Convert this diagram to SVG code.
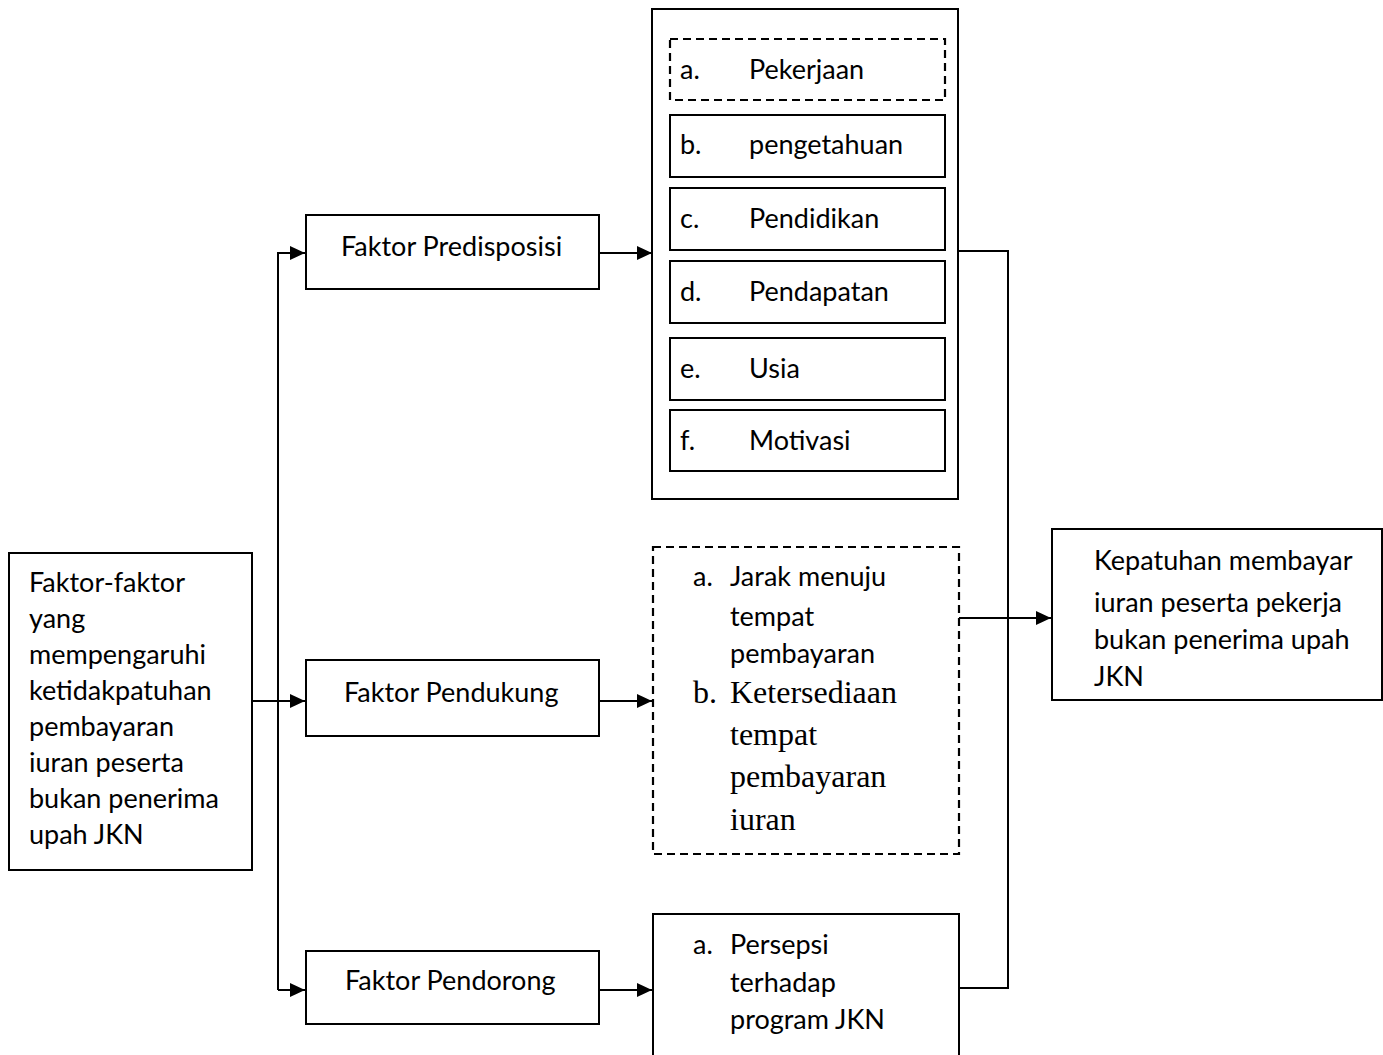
<svg xmlns="http://www.w3.org/2000/svg" width="1383" height="1055" viewBox="0 0 1383 1055">
<style>
.box{fill:#fff;stroke:#000;stroke-width:2}
.dash{fill:#fff;stroke:#000;stroke-width:2.2;stroke-dasharray:8 5}
.t{font-family:Lato,"Liberation Sans",sans-serif;font-size:27px;fill:#000}
.s{font-family:"Liberation Serif",serif;font-size:32px;fill:#000}
.ln{fill:none;stroke:#000;stroke-width:2}
</style>
<defs>
<marker id="ah" markerWidth="16" markerHeight="16" refX="15" refY="7" orient="auto" markerUnits="userSpaceOnUse">
<path d="M0,0 L15,7 L0,14 Z" fill="#000"/>
</marker>
</defs>
<rect width="1383" height="1055" fill="#fff"/>
<g id="connectors">
<path class="ln" d="M253,701 H305" marker-end="url(#ah)"/>
<path class="ln" d="M278,990 V253 H305" marker-end="url(#ah)"/>
<path class="ln" d="M278,990 H305" marker-end="url(#ah)"/>
<path class="ln" d="M599,253 H652" marker-end="url(#ah)"/>
<path class="ln" d="M599,701 H652" marker-end="url(#ah)"/>
<path class="ln" d="M599,990 H652" marker-end="url(#ah)"/>
<path class="ln" d="M958,251 H1008 V988 H959"/>
<path class="ln" d="M959,618 H1051" marker-end="url(#ah)"/>
</g>
<g id="n-left">
<rect class="box" x="9" y="553" width="243" height="317"/>
<text class="t" x="29" y="592">Faktor-faktor</text>
<text class="t" x="29" y="628">yang</text>
<text class="t" x="29" y="664">mempengaruhi</text>
<text class="t" x="29" y="700">ketidakpatuhan</text>
<text class="t" x="29" y="736">pembayaran</text>
<text class="t" x="29" y="772">iuran peserta</text>
<text class="t" x="29" y="808">bukan penerima</text>
<text class="t" x="29" y="844">upah JKN</text>
</g>
<g id="n-predisposisi">
<rect class="box" x="306" y="215" width="293" height="74"/>
<text class="t" x="341" y="256">Faktor Predisposisi</text>
</g>
<g id="n-pendukung">
<rect class="box" x="306" y="660" width="293" height="76"/>
<text class="t" x="344" y="702">Faktor Pendukung</text>
</g>
<g id="n-pendorong">
<rect class="box" x="306" y="951" width="293" height="73"/>
<text class="t" x="345" y="990">Faktor Pendorong</text>
</g>
<g id="n-predisposisi-list">
<rect class="box" x="652" y="9" width="306" height="490"/>
<rect class="dash" x="670" y="39" width="275" height="61"/>
<text class="t" x="680" y="79">a.</text><text class="t" x="749" y="79">Pekerjaan</text>
<rect class="box" x="670" y="115" width="275" height="62"/>
<text class="t" x="680" y="154">b.</text><text class="t" x="749" y="154">pengetahuan</text>
<rect class="box" x="670" y="188" width="275" height="62"/>
<text class="t" x="680" y="228">c.</text><text class="t" x="749" y="228">Pendidikan</text>
<rect class="box" x="670" y="261" width="275" height="62"/>
<text class="t" x="680" y="301">d.</text><text class="t" x="749" y="301">Pendapatan</text>
<rect class="box" x="670" y="338" width="275" height="62"/>
<text class="t" x="680" y="378">e.</text><text class="t" x="749" y="378">Usia</text>
<rect class="box" x="670" y="410" width="275" height="61"/>
<text class="t" x="680" y="450">f.</text><text class="t" x="749" y="450">Motivasi</text>
</g>
<g id="n-pendukung-list">
<rect class="dash" x="653" y="547" width="306" height="307"/>
<text class="t" x="693" y="586">a.</text><text class="t" x="730" y="586">Jarak menuju</text>
<text class="t" x="730" y="626">tempat</text>
<text class="t" x="730" y="663">pembayaran</text>
<text class="s" x="693" y="703">b.</text><text class="s" x="730" y="703">Ketersediaan</text>
<text class="s" x="730" y="745">tempat</text>
<text class="s" x="730" y="787">pembayaran</text>
<text class="s" x="730" y="830">iuran</text>
</g>
<g id="n-pendorong-list">
<rect class="box" x="653" y="914" width="306" height="160"/>
<text class="t" x="693" y="954">a.</text><text class="t" x="730" y="954">Persepsi</text>
<text class="t" x="730" y="992">terhadap</text>
<text class="t" x="730" y="1029">program JKN</text>
</g>
<g id="n-result">
<rect class="box" x="1052" y="529" width="330" height="171"/>
<text class="t" x="1094" y="570">Kepatuhan membayar</text>
<text class="t" x="1094" y="612">iuran peserta pekerja</text>
<text class="t" x="1094" y="649">bukan penerima upah</text>
<text class="t" x="1094" y="686">JKN</text>
</g>
</svg>
